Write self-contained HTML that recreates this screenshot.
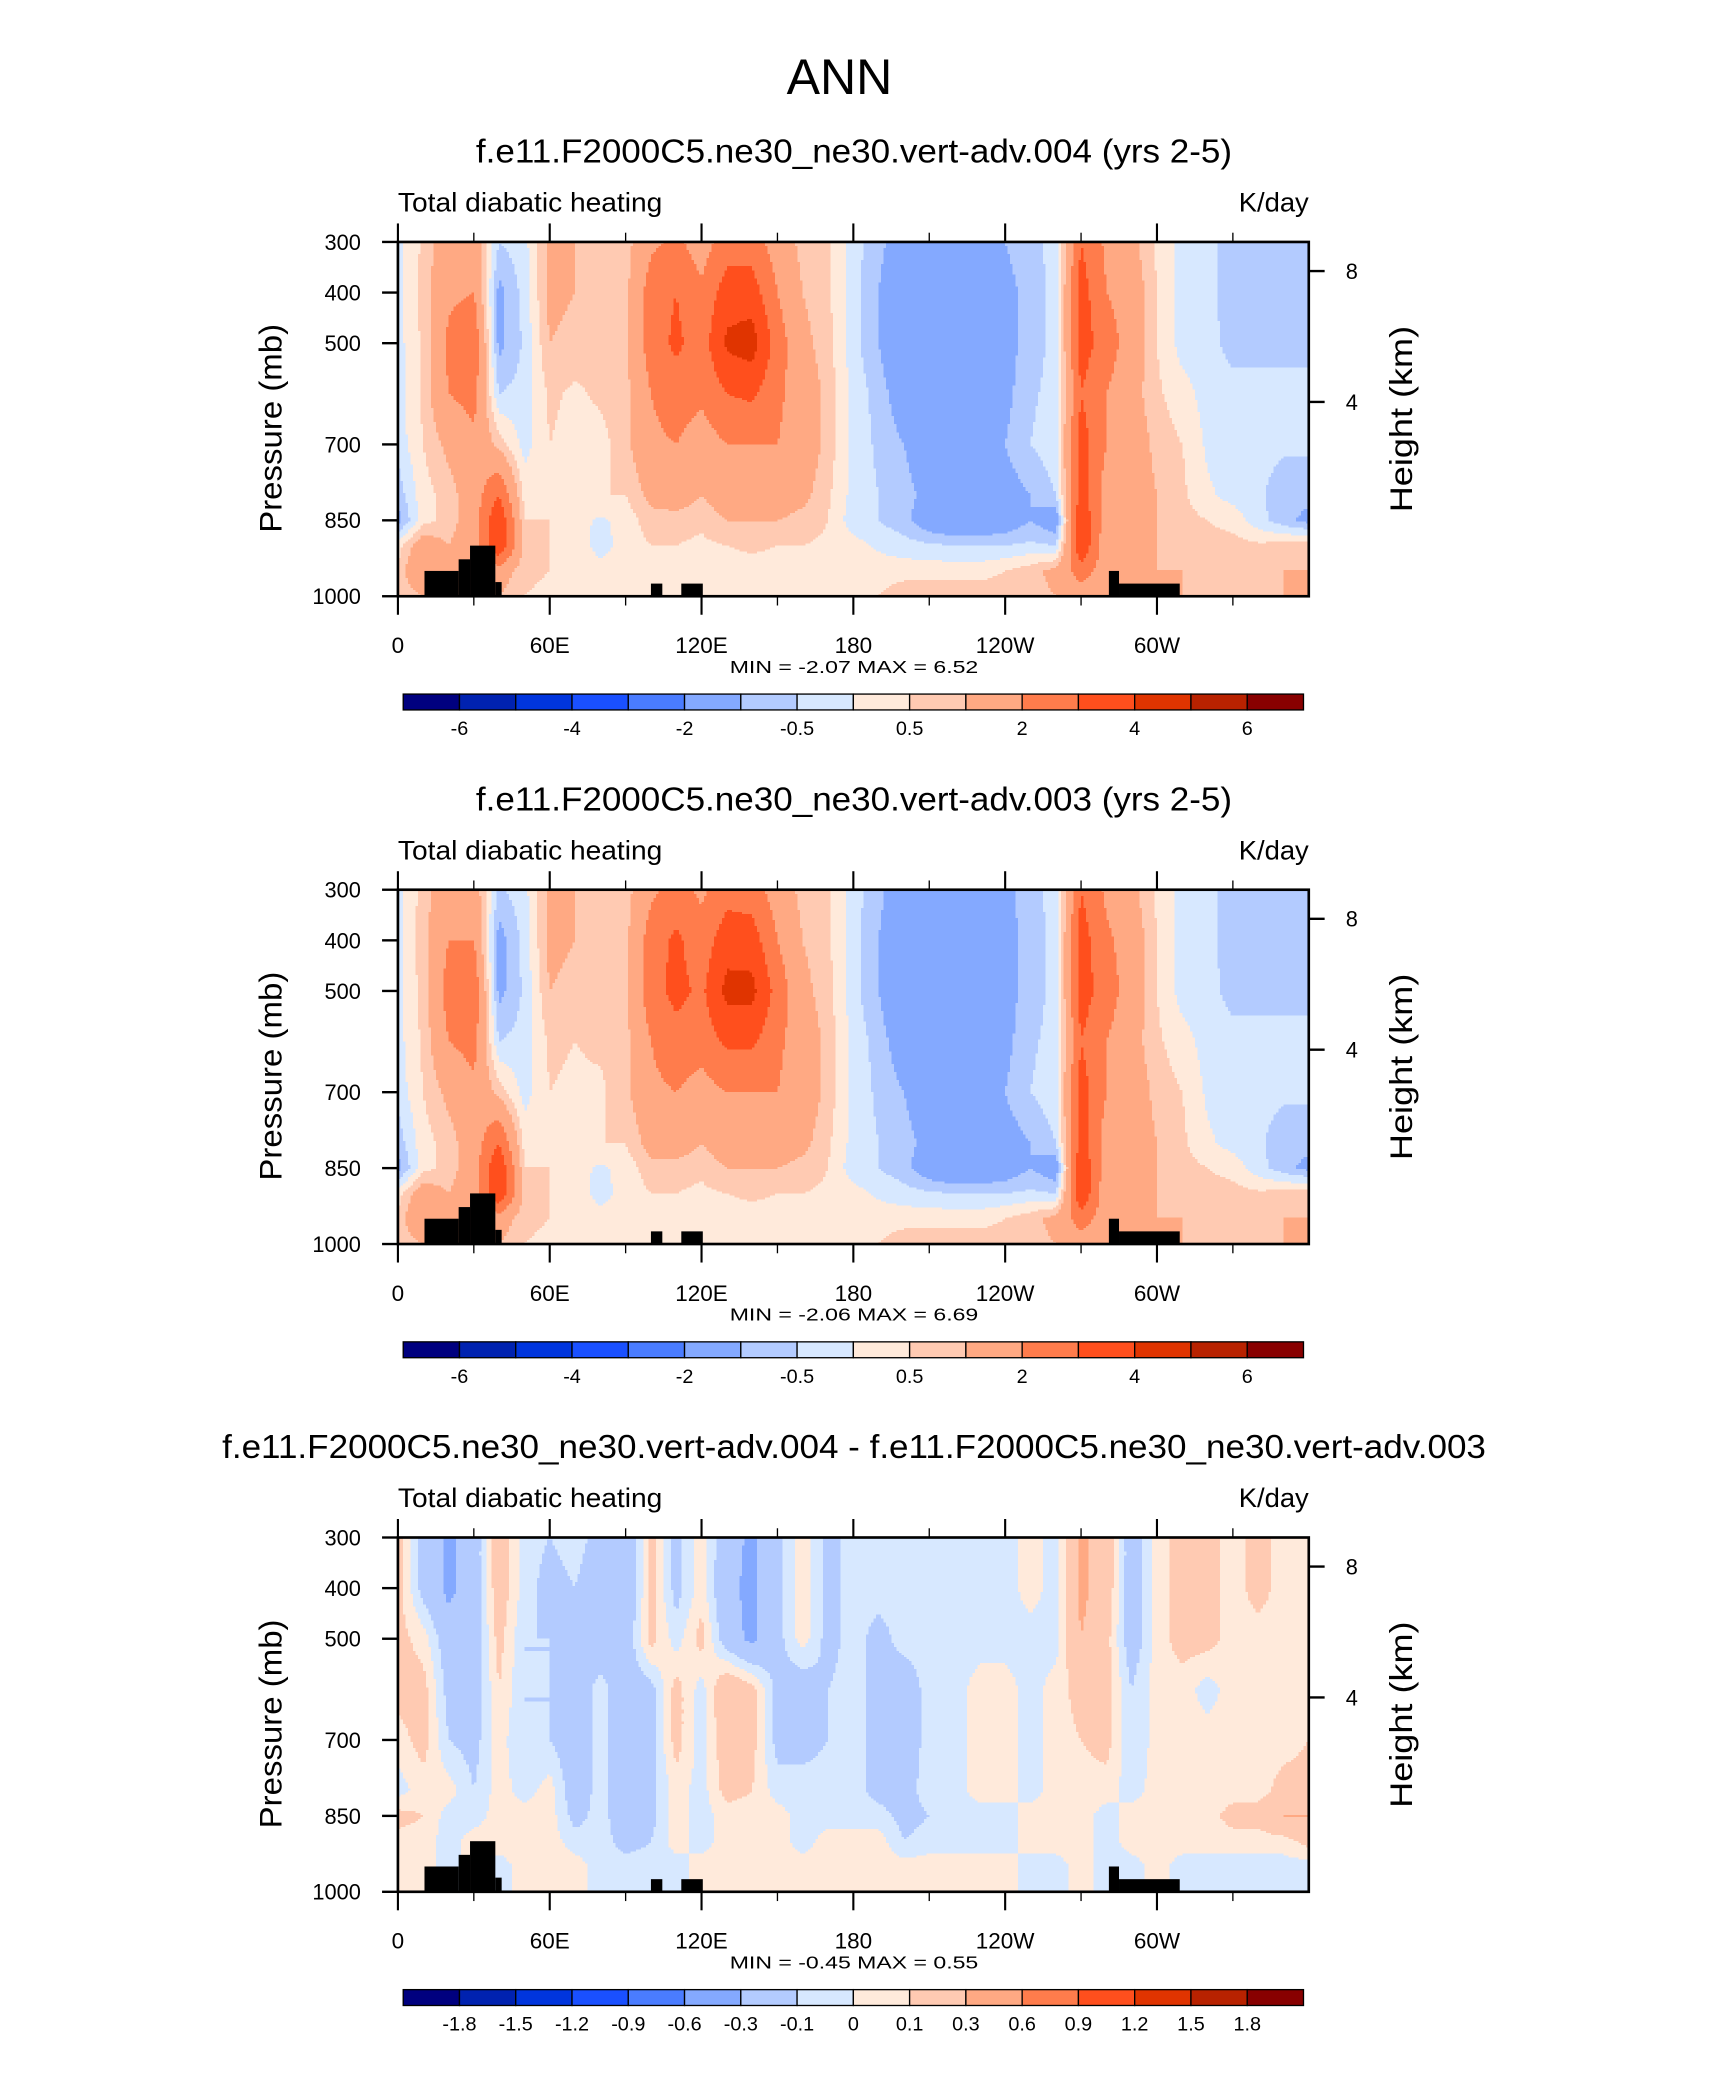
<!DOCTYPE html>
<html><head><meta charset="utf-8"><title>ANN Total diabatic heating</title>
<style>
html,body{margin:0;padding:0;background:#fff;}
svg{display:block;}
text{font-family:"Liberation Sans",sans-serif;fill:#000;}
</style></head>
<body>
<svg id="fig" width="1710" height="2074" viewBox="0 0 1293.5 1568.8" xmlns="http://www.w3.org/2000/svg">
<text x="635" y="71" font-size="38" text-anchor="middle" textLength="80" lengthAdjust="spacingAndGlyphs">ANN</text>
</svg>
<script>
// ---------- data ----------
const lons = [0,10,20,30,40,50,60,70,80,90,100,110,120,130,140,150,160,170,180,190,200,210,220,230,240,250,260,270,280,290,300,310,320,330,340,350,360];
const pLevels = [300,400,500,600,700,800,850,900,950,1000];

const ctrl004 = [
[-0.2,0.6,1.5,1.5,-0.5,-0.2,1.2,1.0,0.7,0.7,1.8,2.2,1.5,2.5,2.5,1.5,0.8,0.6,-0.3,-0.8,-1.5,-1.5,-1.5,-1.5,-1.0,-0.7,-0.3,3.0,1.8,1.2,0.4,-0.2,-0.3,-0.8,-0.8,-0.8,-0.8],
[-0.2,0.7,1.8,2.0,-1.2,-0.3,1.2,1.0,0.7,0.8,2.5,3.0,2.2,3.5,3.5,2.0,1.0,0.6,-0.3,-1.0,-1.8,-1.8,-1.8,-1.7,-1.2,-0.8,-0.3,3.5,2.0,1.5,0.5,-0.2,-0.3,-0.8,-0.8,-0.8,-0.8],
[-0.2,0.6,2.2,2.8,-1.2,-0.4,1.0,0.8,0.7,0.8,2.5,3.2,2.5,4.2,4.5,2.5,1.2,0.7,-0.3,-1.0,-1.8,-1.8,-1.8,-1.7,-1.2,-0.8,-0.3,3.5,2.5,1.5,0.5,-0.2,-0.3,-0.7,-0.7,-0.7,-0.7],
[-0.2,0.6,2.0,2.3,-0.5,-0.3,0.6,0.4,0.6,0.8,2.0,2.5,2.2,3.0,3.2,2.2,1.5,0.8,-0.2,-0.7,-1.5,-1.8,-1.8,-1.6,-1.2,-0.6,-0.3,3.0,2.0,1.3,0.6,0.2,-0.2,-0.3,-0.3,-0.3,-0.3],
[-0.3,0.5,1.2,1.8,0.8,-0.2,0.5,0.3,0.3,0.8,1.8,2.0,1.5,2.0,2.0,2.0,1.5,0.8,-0.2,-0.6,-1.0,-1.5,-1.5,-1.2,-1.0,-0.5,-0.2,3.5,2.0,1.5,0.8,0.5,-0.1,-0.3,-0.3,-0.4,-0.4],
[-0.8,0.3,0.7,1.5,3.0,0.3,0.5,0.3,0.5,0.5,1.2,1.5,1.0,1.5,1.5,1.5,1.2,0.6,-0.2,-0.5,-0.8,-1.2,-1.5,-1.5,-1.3,-1.0,-0.5,3.5,1.5,1.5,1.0,0.6,0.1,-0.2,-0.4,-0.8,-0.8],
[-1.2,0.3,0.7,1.5,4.0,0.5,0.5,0.2,-0.1,0.2,0.8,0.7,0.6,1.0,1.0,1.0,0.8,0.5,-0.3,-0.5,-0.8,-1.5,-1.8,-1.8,-1.5,-1.0,-1.5,4.0,1.5,1.5,1.0,0.7,0.5,0.3,-0.3,-0.8,-1.2],
[0.3,1.5,1.0,1.5,4.0,0.8,0.5,0.3,-0.2,0.2,0.5,0.5,0.4,0.5,0.6,0.5,0.5,0.4,0.2,-0.1,-0.3,-0.4,-0.5,-0.5,-0.5,-0.4,-0.5,4.0,1.2,1.2,1.0,0.8,0.7,0.7,0.6,0.7,0.8],
[0.6,2.0,1.0,1.0,1.5,0.6,0.5,0.3,0.2,0.3,0.4,0.4,0.4,0.3,0.3,0.3,0.3,0.3,0.3,0.3,0.3,0.3,0.3,0.3,0.5,0.8,1.2,2.5,1.5,1.2,1.0,1.0,0.8,0.8,0.8,1.0,1.0],
[0.6,1.0,1.0,1.0,1.0,0.5,0.4,0.3,0.3,0.3,0.3,0.3,0.3,0.3,0.3,0.3,0.3,0.3,0.3,0.5,0.8,0.8,0.8,0.8,0.8,0.8,1.0,1.5,1.2,1.0,1.0,1.0,0.8,0.8,0.8,1.0,1.0]
];
const ctrl003 = [
[-0.2,0.7,1.6,1.5,-0.6,-0.2,1.2,1.0,0.7,0.7,1.8,2.4,1.8,2.6,2.5,1.5,0.8,0.6,-0.3,-0.8,-1.6,-1.6,-1.6,-1.6,-1.2,-0.7,-0.3,3.0,1.8,1.2,0.4,-0.2,-0.3,-0.8,-0.8,-0.8,-0.8],
[-0.2,0.8,2.0,2.0,-1.3,-0.3,1.2,1.0,0.7,0.8,2.5,3.2,2.4,3.6,3.5,2.0,1.0,0.6,-0.3,-1.0,-1.8,-1.8,-1.8,-1.7,-1.2,-0.8,-0.3,3.5,2.2,1.5,0.5,-0.2,-0.3,-0.8,-0.8,-0.8,-0.8],
[-0.2,0.7,2.4,2.8,-1.2,-0.4,1.0,0.8,0.7,0.8,2.6,3.3,2.8,4.3,4.3,2.6,1.2,0.7,-0.3,-1.0,-1.8,-1.8,-1.8,-1.7,-1.2,-0.8,-0.3,3.5,2.5,1.5,0.5,-0.2,-0.3,-0.7,-0.7,-0.7,-0.7],
[-0.2,0.6,2.0,2.3,-0.5,-0.3,0.6,0.5,0.6,0.8,2.0,2.6,2.4,3.2,3.2,2.2,1.5,0.8,-0.2,-0.7,-1.5,-1.8,-1.8,-1.6,-1.2,-0.6,-0.3,3.0,2.0,1.3,0.6,0.2,-0.2,-0.3,-0.3,-0.3,-0.3],
[-0.3,0.5,1.2,1.8,0.8,-0.2,0.5,0.4,0.4,0.8,1.8,2.0,1.6,2.0,2.0,2.0,1.5,0.8,-0.2,-0.6,-1.0,-1.5,-1.5,-1.2,-1.0,-0.5,-0.2,3.5,2.0,1.5,0.8,0.5,-0.1,-0.3,-0.3,-0.4,-0.4],
[-0.8,0.3,0.7,1.5,3.0,0.3,0.5,0.3,0.5,0.5,1.3,1.5,1.0,1.5,1.5,1.5,1.2,0.6,-0.2,-0.5,-0.8,-1.2,-1.5,-1.5,-1.3,-1.0,-0.5,3.5,1.5,1.5,1.0,0.6,0.1,-0.2,-0.4,-0.8,-0.8],
[-1.2,0.3,0.7,1.5,4.0,0.5,0.5,0.2,-0.1,0.2,0.8,0.7,0.6,1.0,1.0,1.0,0.8,0.5,-0.3,-0.5,-0.8,-1.5,-1.8,-1.8,-1.5,-1.0,-1.5,4.0,1.5,1.5,1.0,0.7,0.5,0.3,-0.3,-0.8,-1.2],
[0.3,1.5,1.0,1.5,4.0,0.8,0.5,0.3,-0.2,0.2,0.5,0.5,0.4,0.5,0.6,0.5,0.5,0.4,0.2,-0.1,-0.3,-0.4,-0.5,-0.5,-0.5,-0.4,-0.5,4.0,1.2,1.2,1.0,0.8,0.7,0.7,0.6,0.7,0.8],
[0.6,2.0,1.0,1.0,1.5,0.6,0.5,0.3,0.2,0.3,0.4,0.4,0.4,0.3,0.3,0.3,0.3,0.3,0.3,0.3,0.3,0.3,0.3,0.3,0.5,0.8,1.2,2.5,1.5,1.2,1.0,1.0,0.8,0.8,0.8,1.0,1.0],
[0.6,1.0,1.0,1.0,1.0,0.5,0.4,0.3,0.3,0.3,0.3,0.3,0.3,0.3,0.3,0.3,0.3,0.3,0.3,0.5,0.8,0.8,0.8,0.8,0.8,0.8,1.0,1.5,1.2,1.0,1.0,1.0,0.8,0.8,0.8,1.0,1.0]
];
const diffVals = [
[0.15,-0.15,-0.35,-0.2,0.2,-0.05,-0.1,-0.05,-0.15,-0.3,0.15,-0.15,0.05,-0.2,-0.35,-0.15,0.05,-0.15,-0.05,-0.05,-0.05,-0.05,-0.05,-0.05,-0.05,0.05,-0.05,0.35,0.2,-0.2,0.05,0.15,0.15,0.05,0.15,0.05,0.1],
[0.15,-0.15,-0.35,-0.2,0.2,-0.05,-0.15,-0.1,-0.2,-0.3,0.15,-0.15,0.05,-0.25,-0.35,-0.15,0.05,-0.15,-0.05,-0.05,-0.05,-0.05,-0.05,-0.05,-0.05,0.05,-0.05,0.35,0.2,-0.2,0.05,0.15,0.15,0.05,0.15,0.05,0.1],
[0.15,0.05,-0.2,-0.2,0.15,-0.1,-0.1,-0.2,-0.2,-0.2,0.15,-0.05,0.15,-0.2,-0.35,-0.15,0.05,-0.15,-0.05,-0.15,-0.05,-0.05,-0.05,-0.05,-0.05,-0.05,-0.05,0.3,0.15,-0.2,0.05,0.15,0.15,0.05,0.05,0.05,0.1],
[0.15,0.15,-0.15,-0.2,0.1,-0.1,-0.1,-0.2,-0.05,-0.2,-0.15,0.15,-0.05,0.25,0.15,-0.15,-0.2,-0.1,-0.05,-0.15,-0.2,-0.05,-0.05,0.05,0.05,-0.05,0.05,0.15,0.15,-0.1,0.05,0.05,-0.05,0.05,0.05,0.1,0.1],
[0.05,0.15,-0.1,-0.15,0.05,-0.1,-0.1,-0.2,-0.05,-0.2,-0.15,0.15,-0.05,0.2,0.15,-0.15,-0.15,-0.1,-0.05,-0.15,-0.2,-0.05,-0.05,0.05,0.05,-0.05,0.05,0.1,0.15,-0.1,0.05,0.05,0.05,0.05,0.05,0.05,0.1],
[-0.05,0.05,0.05,-0.1,0.05,-0.05,0.05,-0.2,-0.05,-0.2,-0.15,0.05,-0.05,0.15,0.1,-0.05,-0.05,-0.05,-0.05,-0.15,-0.15,-0.05,-0.05,0.05,0.05,-0.05,0.05,0.05,0.05,-0.05,0.05,0.05,0.05,0.05,0.05,0.15,0.15],
[0.15,0.1,-0.05,-0.05,0.05,0.05,0.05,-0.15,-0.05,-0.2,-0.15,0.05,-0.05,0.05,0.05,0.05,-0.05,-0.05,-0.05,-0.05,-0.15,-0.1,-0.05,-0.05,-0.05,0.05,0.05,0.05,-0.05,0.05,0.05,0.05,0.05,0.15,0.15,0.3,0.3],
[0.05,0.05,-0.05,0.05,0.05,0.05,0.05,-0.05,-0.05,-0.15,-0.1,0.05,-0.05,0.05,0.05,0.05,-0.05,0.05,0.05,0.05,-0.1,-0.05,-0.05,-0.05,-0.05,0.05,0.05,0.05,-0.05,0.05,0.05,0.05,0.05,0.05,0.05,0.05,0.15],
[0.05,0.05,-0.05,0.05,-0.05,0.05,0.05,0.05,-0.05,-0.05,-0.05,-0.05,0.05,0.05,0.05,0.05,0.05,0.05,0.05,0.05,0.05,0.05,0.05,0.05,0.05,-0.05,-0.05,0.05,-0.05,-0.05,0.05,-0.05,-0.05,-0.05,-0.05,-0.05,-0.05],
[0.05,0.05,-0.05,0.05,-0.05,0.05,0.05,0.05,-0.05,-0.05,-0.05,-0.05,0.05,0.05,0.05,0.05,0.05,0.05,0.05,0.05,0.05,0.05,0.05,0.05,0.05,-0.05,-0.05,0.05,-0.05,-0.05,0.05,-0.05,-0.05,-0.05,-0.05,-0.05,-0.05]
];
const ctrlLevels = [-6,-5,-4,-3,-2,-1,-0.5,0,0.5,1,2,3,4,5,6];
const ctrlLabels = ["-6","-4","-2","-0.5","0.5","2","4","6"];
const diffLevels = [-1.8,-1.5,-1.2,-0.9,-0.6,-0.3,-0.1,0,0.1,0.3,0.6,0.9,1.2,1.5,1.8];
const diffLabels = ["-1.8","-1.5","-1.2","-0.9","-0.6","-0.3","-0.1","0","0.1","0.3","0.6","0.9","1.2","1.5","1.8"];
const palette = ["#00007f","#0022b0","#0035dd","#1a50ff","#4a7cff","#84a9ff","#b3cbff","#d7e8ff","#ffeadb","#ffcab2","#ffa983","#ff7c4c","#ff4f1d","#e03400","#b82200","#880000"];
const landMask = [[10.5,24,950],[24,28.5,927],[28.5,38.5,900],[38.5,41,972],[100,104.5,975],[112,120.5,975],[281,285,950],[285,309,975]];
const xTickLabels = ["0","60E","120E","180","120W","60W"];
const pTicks = [300,400,500,700,850,1000];
const zTicks = [[8,205],[4,304]];
const panelTitles = ["f.e11.F2000C5.ne30_ne30.vert-adv.004 (yrs 2-5)","f.e11.F2000C5.ne30_ne30.vert-adv.003 (yrs 2-5)","f.e11.F2000C5.ne30_ne30.vert-adv.004 - f.e11.F2000C5.ne30_ne30.vert-adv.003"];
const minMax = ["MIN =  -2.07  MAX =   6.52","MIN =  -2.06  MAX =   6.69","MIN =  -0.45  MAX =   0.55"];

// ---------- drawing ----------
const NS="http://www.w3.org/2000/svg";
const svg=document.getElementById('fig');
const X0=301,X1=990,Y0=183,Y1=451;
function xScale(lon){return X0+lon*(X1-X0)/360;}
function yScale(p,off){return off+Y0+(p-300)*(Y1-Y0)/700;}
function mk(tag,attrs,parent){const e=document.createElementNS(NS,tag);for(const k in attrs)e.setAttribute(k,attrs[k]);(parent||svg).appendChild(e);return e;}
function txt(s,x,y,size,anchor,parent,len){const t=mk('text',{x:x,y:y,'font-size':size,'text-anchor':anchor||'start'},parent);if(len){t.setAttribute('textLength',len);t.setAttribute('lengthAdjust','spacingAndGlyphs');}t.textContent=s;return t;}
function sample(field,lon,p){
  let i=Math.min(Math.floor(lon/10),35);let fx=(lon-lons[i])/10;
  let j=0;while(j<pLevels.length-2&&p>pLevels[j+1])j++;
  let fy=(p-pLevels[j])/(pLevels[j+1]-pLevels[j]);
  const a=field[j][i],b=field[j][i+1],c=field[j+1][i],d=field[j+1][i+1];
  return (a*(1-fx)+b*fx)*(1-fy)+(c*(1-fx)+d*fx)*fy;
}
function colorIdx(v,levels){let k=0;while(k<levels.length&&v>=levels[k])k++;return k;}

function drawPanel(idx,field,levels,labels,off){
  const g=mk('g',{});
  
  
  const tt=txt(panelTitles[idx],646,off+123,25,'middle',g,idx==2?956:572);
  
  const lt=txt('Total diabatic heating',X0,off+160,20,'start',g,200);
  
  const rt=txt('K/day',X1,off+160,20,'end',g,53);
  
  const field_g=mk('g',{'shape-rendering':'crispEdges'},g);
  
  const dl=1,dp=4;
  for(let p=300;p<1000;p+=dp){
    let start=0,cur=-1;
    for(let lon=0;lon<=360;lon+=dl){
      let k=-2;
      if(lon<360) k=colorIdx(sample(field,lon+dl/2,p+dp/2),levels);
      if(k!==cur){
        if(cur>=0){
          const r=mk('rect',{x:xScale(start),y:yScale(p,off),width:xScale(lon)-xScale(start)+0.4,height:yScale(p+dp,off)-yScale(p,off)+0.4,fill:palette[cur]},field_g);
          
          
        }
        start=lon;cur=k;
      }
    }
  }
  landMask.forEach(m=>{
    const r=mk('rect',{x:xScale(m[0]),y:yScale(m[2],off),width:xScale(m[1])-xScale(m[0]),height:yScale(1000,off)-yScale(m[2],off),fill:'#000'},g);
    
    
  });
  const fr=mk('rect',{x:X0,y:off+Y0,width:X1-X0,height:Y1-Y0,fill:'none',stroke:'#000','stroke-width':2},g);
  
  for(let lon=0;lon<=330;lon+=30){
    const maj=lon%60===0, x=xScale(lon);
    mk('line',{x1:x,x2:x,y1:off+Y1,y2:off+Y1+(maj?14:7),stroke:'#000','stroke-width':maj?1.6:1},g);
    mk('line',{x1:x,x2:x,y1:off+Y0,y2:off+Y0-(maj?14:7),stroke:'#000','stroke-width':maj?1.6:1},g);
    if(maj){const t=txt(xTickLabels[lon/60],x,off+494,17,'middle',g);
      }
  }
  pTicks.forEach(p=>{
    const y=yScale(p,off);
    mk('line',{x1:X0-12,x2:X0,y1:y,y2:y,stroke:'#000','stroke-width':1.8},g);
    const t=txt(String(p),273,y+6,16.5,'end',g);
    
  });
  zTicks.forEach(z=>{
    const y=off+z[1];
    mk('line',{x1:X1,x2:X1+12,y1:y,y2:y,stroke:'#000','stroke-width':1.8},g);
    const t=txt(String(z[0]),1018,y+6,16.5,'start',g);
    
  });
  const yt=txt('Pressure (mb)',0,0,24,'middle',g,158);
  yt.setAttribute('transform','translate(213,'+(off+324)+') rotate(-90)');
  
  const ht=txt('Height (km)',0,0,24,'middle',g,141);
  ht.setAttribute('transform','translate(1068,'+(off+317)+') rotate(-90)');
  
  const mm=txt(minMax[idx],646,off+509,13.5,'middle',g,188);
  mm.setAttribute('xml:space','preserve');
  
  const cb=mk('g',{},g);
  
  const cx0=305,cx1=986,cy=off+525,ch=12,bw=(cx1-cx0)/16;
  for(let k=0;k<16;k++){
    const r=mk('rect',{x:cx0+k*bw,y:cy,width:bw,height:ch,fill:palette[k],stroke:'#000','stroke-width':1},cb);
    
  }
  const every=labels.length===8?2:1;
  labels.forEach((s,n)=>{
    const b=every===2?1+2*n:1+n;
    const t=txt(s,cx0+b*bw,off+556,15,'middle',cb);
    
  });
}
drawPanel(0,ctrl004,ctrlLevels,ctrlLabels,0);
drawPanel(1,ctrl003,ctrlLevels,ctrlLabels,490);
drawPanel(2,diffVals,diffLevels,diffLabels,980);
</script>
</body></html>
